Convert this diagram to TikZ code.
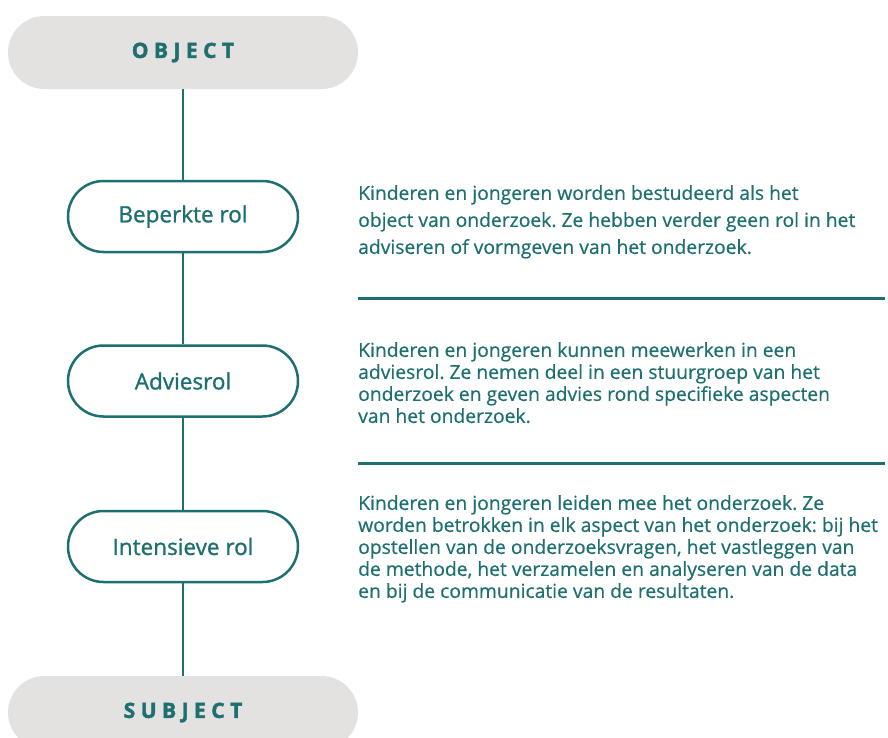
\documentclass[tikz,border=0pt]{standalone}
\usepackage{fontspec}
\setmainfont{Open Sans}[FakeBold=0.5]
\newfontfamily\capsfont[LetterSpace=26, BoldFeatures={FakeBold=2}]{Open Sans}
\newfontfamily\rolfont[FakeBold=1.1]{Open Sans}
\usetikzlibrary{positioning}
\definecolor{teal}{HTML}{1E6F6F}
\definecolor{pillgray}{HTML}{E3E2E1}
\frenchspacing

\tikzset{
  endpill/.style={rectangle, rounded corners=36.5pt, fill=pillgray,
    minimum width=350pt, minimum height=73pt, inner sep=0pt,
    text=teal, font=\capsfont\bfseries\fontsize{21}{24}\selectfont},
  rolpill/.style={rectangle, rounded corners=35.5pt, draw=teal, line width=2.5pt,
    fill=white, minimum width=230pt, minimum height=71pt, inner sep=0pt,
    text=teal, font=\rolfont\fontsize{22.5}{26}\selectfont},
  uitleg/.style={anchor=north west, inner sep=0pt, align=left, text=teal},
  scheiding/.style={teal, line width=3pt},
}

\begin{document}
\begin{tikzpicture}[x=1pt, y=-1pt]
    \useasboundingbox (0,0) rectangle (888,737);
    % pillen
    \node[endpill] (obj) at (183,52.5) {OBJECT};
    \node[rolpill] (beperkt) at (183,216.5) {Beperkte rol};
    \node[rolpill] (advies) at (183,381) {Adviesrol};
    \node[rolpill] (intensief) at (183,546.5) {Intensieve rol};
    \node[endpill] (subj) at (183,712.5) {SUBJECT};
    % verbindingen
    \draw[teal, line width=2pt] (obj) -- (beperkt);
    \draw[teal, line width=2pt] (beperkt) -- (advies);
    \draw[teal, line width=2pt] (advies) -- (intensief);
    \draw[teal, line width=2pt] (intensief) -- (subj);
    % teksten
    \node[uitleg, font=\fontsize{19.3}{27}\selectfont] (tekst1) at (358,185)
      {Kinderen en jongeren worden bestudeerd als het\\
       object van onderzoek. Ze hebben verder geen rol in het\\
       adviseren of vormgeven van het onderzoek.};
    \node[uitleg, font=\fontsize{19.3}{22}\selectfont] (tekst2) at (358,342)
      {Kinderen en jongeren kunnen meewerken in een\\
       adviesrol. Ze nemen deel in een stuurgroep van het\\
       onderzoek en geven advies rond specifieke aspecten\\
       van het onderzoek.};
    \node[uitleg, font=\fontsize{19.3}{22}\selectfont] (tekst3) at (358,495)
      {Kinderen en jongeren leiden mee het onderzoek. Ze\\
       worden betrokken in elk aspect van het onderzoek: bij het\\
       opstellen van de onderzoeksvragen, het vastleggen van\\
       de methode, het verzamelen en analyseren van de data\\
       en bij de communicatie van de resultaten.};
    % scheidingslijnen
    \draw[scheiding] (358,298) -- (885,298);
    \draw[scheiding] (358,463) -- (885,463);
\end{tikzpicture}
\end{document}
